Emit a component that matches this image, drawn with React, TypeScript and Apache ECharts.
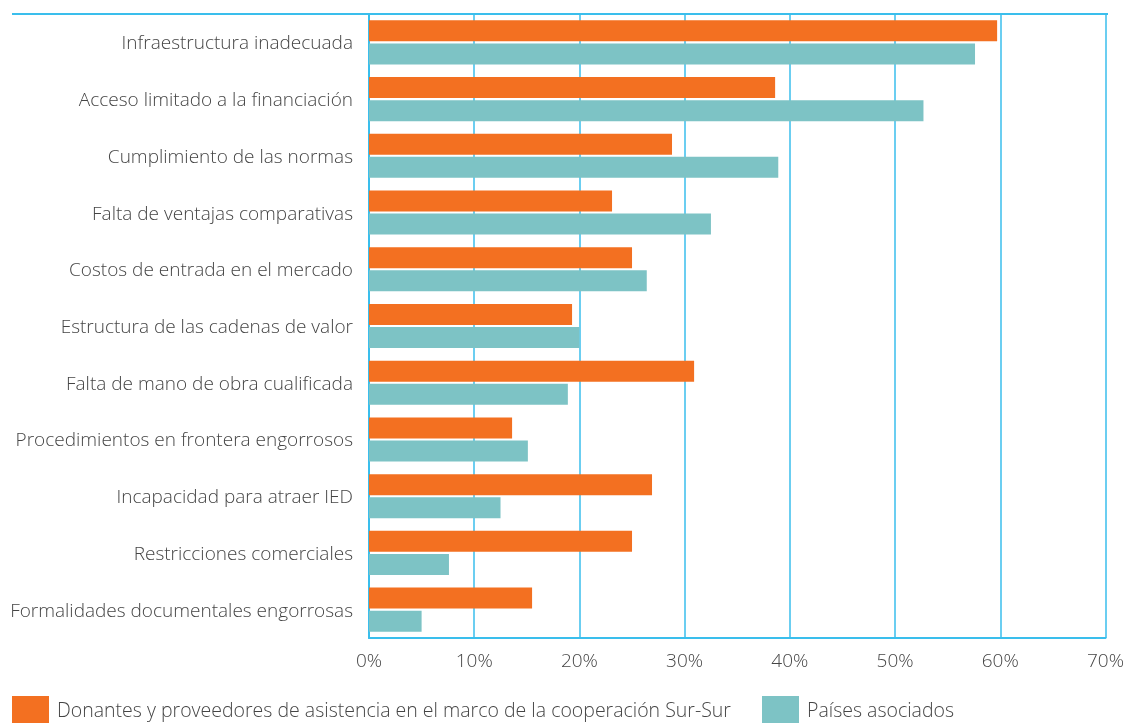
import React, { useEffect, useRef } from "react";
import * as echarts from "echarts";

const categories = [
  "Infraestructura inadecuada",
  "Acceso limitado a la financiación",
  "Cumplimiento de las normas",
  "Falta de ventajas comparativas",
  "Costos de entrada en el mercado",
  "Estructura de las cadenas de valor",
  "Falta de mano de obra cualificada",
  "Procedimientos en frontera engorrosos",
  "Incapacidad para atraer IED",
  "Restricciones comerciales",
  "Formalidades documentales engorrosas",
];
const donantes = [59.7, 38.6, 28.8, 23.1, 25.0, 19.3, 30.9, 13.6, 26.9, 25.0, 15.5];
const asociados = [57.6, 52.7, 38.9, 32.5, 26.4, 20.0, 18.9, 15.1, 12.5, 7.6, 5.0];
const seriesNames = [
  "Donantes y proveedores de asistencia en el marco de la cooperación Sur-Sur",
  "Países asociados",
];

const ORANGE = "#F37021";
const TEAL = "#7DC3C5";
const BLUE = "#3ABEEC";
const TEXT = "#454545";
const FONT = "'Open Sans', 'Noto Sans', sans-serif";

export default function App() {
  const ref = useRef<HTMLDivElement>(null);
  useEffect(() => {
    document.body.style.margin = "0";
    const chart = echarts.init(ref.current!, null, { renderer: "svg" });
    const legendText = {
      fontSize: 19.5,
      color: TEXT,
      fontFamily: FONT,
      fontWeight: 300,
      padding: [0, 0, 0, 3],
    };
    chart.setOption({
      animation: false,
      textStyle: { fontFamily: FONT },
      grid: { left: 369, right: 20, top: 14, bottom: 85 },
      legend: [
        {
          data: [seriesNames[0]],
          left: 12,
          top: 696,
          itemWidth: 37,
          itemHeight: 27,
          icon: "rect",
          textStyle: legendText,
          padding: 0,
        },
        {
          data: [seriesNames[1]],
          left: 762,
          top: 696,
          itemWidth: 37,
          itemHeight: 27,
          icon: "rect",
          textStyle: legendText,
          padding: 0,
        },
      ],
      xAxis: {
        type: "value",
        min: 0,
        max: 70,
        interval: 10,
        axisLine: { show: true, lineStyle: { color: BLUE, width: 2 } },
        axisTick: { show: false },
        splitLine: { show: true, lineStyle: { color: BLUE, width: 1.5 } },
        axisLabel: {
          formatter: "{value}%",
          fontSize: 19,
          color: TEXT,
          margin: 12,
          fontFamily: FONT,
          fontWeight: 300,
        },
      },
      yAxis: {
        type: "category",
        data: categories,
        inverse: true,
        axisLine: { show: true, lineStyle: { color: BLUE, width: 2 } },
        axisTick: { show: false },
        axisLabel: {
          fontSize: 19,
          color: TEXT,
          margin: 16,
          fontFamily: FONT,
          fontWeight: 300,
        },
      },
      series: [
        {
          name: seriesNames[0],
          type: "bar",
          data: donantes,
          barWidth: 21,
          barGap: "10%",
          itemStyle: { color: ORANGE },
        },
        {
          name: seriesNames[1],
          type: "bar",
          data: asociados,
          barWidth: 21,
          barGap: "10%",
          itemStyle: { color: TEAL },
        },
      ],
      graphic: [
        {
          type: "line",
          shape: { x1: 12, y1: 14, x2: 1108, y2: 14 },
          style: { stroke: BLUE, lineWidth: 2 },
        },
      ],
    });
    return () => chart.dispose();
  }, []);
  return (
    <div
      ref={ref}
      style={{ position: "fixed", left: 0, top: 0, width: 1127, height: 723 }}
    />
  );
}
